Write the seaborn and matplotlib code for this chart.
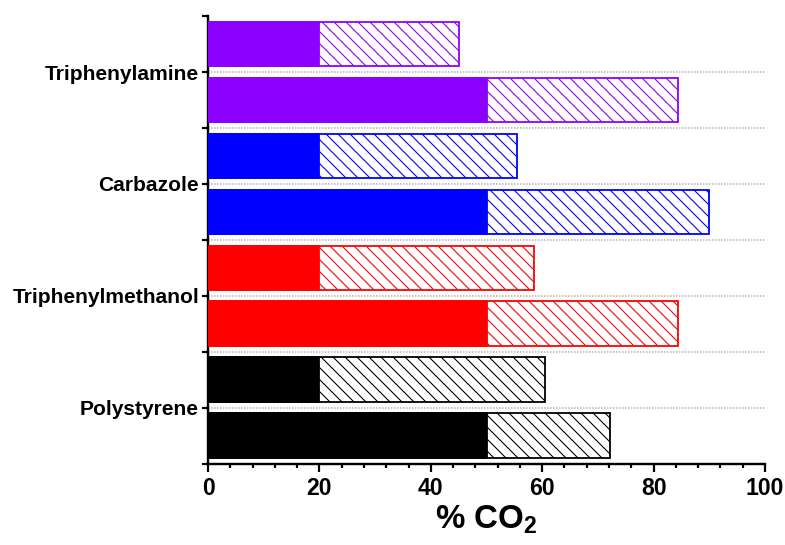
import matplotlib
matplotlib.use('Agg')
import matplotlib.pyplot as plt
from matplotlib.ticker import MultipleLocator
import numpy as np
import pandas as pd
import seaborn as sns

categories = ['Triphenylamine', 'Carbazole', 'Triphenylmethanol', 'Polystyrene']
colors = ['#8c00ff', '#0000ff', '#ff0000', '#000000']
solid_upper = [20, 20, 20, 20]
solid_lower = [50, 50, 50, 50]
total_upper = [45.0, 55.5, 58.5, 60.5]
total_lower = [84.3, 90.0, 84.3, 72.2]

rows = []
for i, c in enumerate(categories):
    rows.append(dict(slot=c + ' a', cat=c, solid=solid_upper[i], total=total_upper[i], color=colors[i]))
    rows.append(dict(slot=c + ' b', cat=c, solid=solid_lower[i], total=total_lower[i], color=colors[i]))
df = pd.DataFrame(rows)
order = list(df['slot'])
pal = dict(zip(df['slot'], df['color']))

sns.set_style('ticks')
plt.rcParams['font.family'] = ['Liberation Sans', 'DejaVu Sans']
plt.rcParams['font.weight'] = 'bold'
plt.rcParams['text.color'] = 'black'
plt.rcParams['axes.labelcolor'] = 'black'
plt.rcParams['xtick.color'] = 'black'
plt.rcParams['ytick.color'] = 'black'
plt.rcParams['axes.edgecolor'] = 'black'
plt.rcParams['mathtext.fontset'] = 'custom'
plt.rcParams['mathtext.rm'] = 'Liberation Sans:bold'
plt.rcParams['hatch.linewidth'] = 1.1

fig = plt.figure(figsize=(785 / 72, 545 / 72), dpi=72)
ax = fig.add_axes([0.265, 0.149, 0.7095, 0.8215])

# hatched full bar
sns.barplot(data=df, y='slot', x='total', hue='slot', order=order, hue_order=order,
            palette=pal, saturation=1, orient='h', width=0.8, legend=False, ax=ax, zorder=2)
for p, col in zip(ax.patches, df['color']):
    p.set_facecolor('white')
    p.set_edgecolor(col)
    p.set_hatch('\\\\')
    p.set_linewidth(1.8)
n = len(ax.patches)
# solid part
sns.barplot(data=df, y='slot', x='solid', hue='slot', order=order, hue_order=order,
            palette=pal, saturation=1, orient='h', width=0.8, legend=False, ax=ax, zorder=3)
for p, col in zip(ax.patches[n:], df['color']):
    p.set_edgecolor(col)
    p.set_linewidth(1.8)

for yb in np.arange(0.5, len(order) - 1, 1.0):
    ax.axhline(yb, color='#b0b0b0', ls=(0, (1, 1)), lw=1.5, zorder=1)

ax.set_xlim(0, 100)
ax.set_ylim(len(order) - 0.5, -0.5)
ax.xaxis.set_major_locator(MultipleLocator(20))
ax.xaxis.set_minor_locator(MultipleLocator(4))
ticks = np.arange(-0.5, len(order), 1.0)
ax.set_yticks(ticks)
labels = [''] * len(ticks)
for i, c in enumerate(categories):
    labels[2 * i + 1] = c
ax.set_yticklabels(labels, fontsize=21, fontweight='bold')
ax.tick_params(axis='x', which='major', length=8, width=2.2, labelsize=23, pad=5)
ax.tick_params(axis='x', which='minor', length=4, width=2.2)
ax.tick_params(axis='y', which='major', length=6, width=2.2, pad=3)
for lab in ax.get_xticklabels():
    lab.set_fontweight('bold')
sns.despine(ax=ax)
for s in ['left', 'bottom']:
    ax.spines[s].set_linewidth(2.4)
ax.set_ylabel('')
ax.set_xlabel('% CO$_\\mathrm{2}$', fontsize=33, fontweight='bold', labelpad=4)

fig.savefig('out.png', dpi=72)
